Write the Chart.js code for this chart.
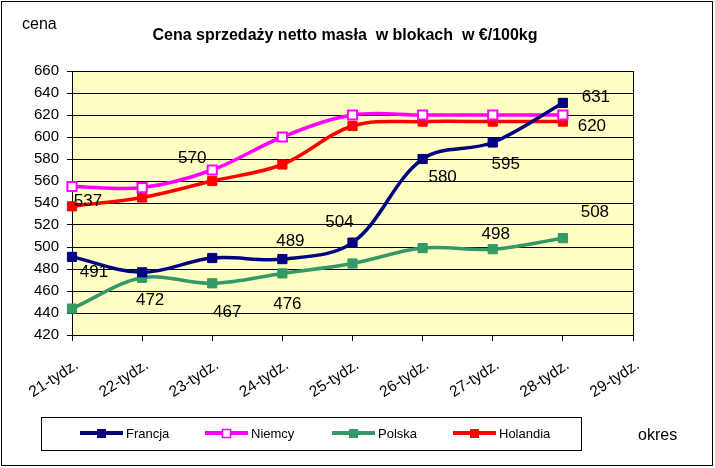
<!DOCTYPE html>
<html>
<head>
<meta charset="utf-8">
<script src="https://cdn.jsdelivr.net/npm/chart.js@4.4.0/dist/chart.umd.min.js"></script>
<style>
  html, body { margin: 0; padding: 0; background: #fff; }
  #wrap { width: 715px; height: 468px; }
</style>
</head>
<body>
<div id="wrap"><canvas id="chart" width="715" height="468"></canvas></div>
<script>
// --- data ---
const weeks = ['21-tydz.', '22-tydz.', '23-tydz.', '24-tydz.', '25-tydz.', '26-tydz.', '27-tydz.', '28-tydz.', '29-tydz.'];
const francja = [491, 477, 490, 489, 504, 580, 595, 631, null];
const niemcy = [555, 554, 570, 600, 620, 620, 620, 620, null];
const polska = [444, 472, 467, 476, 485, 499, 498, 508, null];
const holandia = [537, 545, 560, 575, 610, 614, 614, 614, null];
const yTicks = [420, 440, 460, 480, 500, 520, 540, 560, 580, 600, 620, 640, 660];

const TITLE = 'Cena sprzedaży netto masła  w blokach  w €/100kg';
const FONT = '"Liberation Sans", Arial, sans-serif';

// which points carry a value label, and where it sits relative to the point
const labelSpots = [
    { ds: 0, i: 0, dx: 22, dy: 15 },
    { ds: 0, i: 3, dx: 8, dy: -18 },
    { ds: 0, i: 4, dx: -13, dy: -20 },
    { ds: 0, i: 5, dx: 20, dy: 18 },
    { ds: 0, i: 6, dx: 13, dy: 22 },
    { ds: 0, i: 7, dx: 33, dy: -6 },
    { ds: 1, i: 2, dx: -20, dy: -12 },
    { ds: 1, i: 7, dx: 29, dy: 11 },
    { ds: 3, i: 0, dx: 16, dy: -5 },
    { ds: 2, i: 1, dx: 8, dy: 23 },
    { ds: 2, i: 2, dx: 15, dy: 29 },
    { ds: 2, i: 3, dx: 5, dy: 31 },
    { ds: 2, i: 6, dx: 3, dy: -15 },
    { ds: 2, i: 7, dx: 32, dy: -26 }
];

function series(label, data, color, fill) {
    return {
        label: label,
        data: data,
        borderColor: color,
        backgroundColor: fill || color,
        pointBackgroundColor: fill || color,
        pointBorderColor: color,
        pointBorderWidth: fill ? 2 : 1,
        borderWidth: 3.5,
        tension: 0.35,
        pointStyle: 'rect',
        pointRadius: 6.5,
        pointHoverRadius: 6.5
    };
}

// --- background, frame, title, legend and value labels ---
const decor = {
    id: 'decor',
    beforeDraw(chart) {
        const { ctx, chartArea: a } = chart;
        ctx.save();
        ctx.fillStyle = '#ffffff';
        ctx.fillRect(0, 0, chart.width, chart.height);
        ctx.fillStyle = '#ffffc4';
        ctx.fillRect(a.left, a.top, a.right - a.left, a.bottom - a.top);
        ctx.restore();
    },
    afterDraw(chart) {
        const { ctx, chartArea: a } = chart;
        ctx.save();
        // plot right edge
        ctx.strokeStyle = '#000';
        ctx.lineWidth = 1;
        ctx.beginPath();
        ctx.moveTo(Math.round(a.right) + 0.5, a.top);
        ctx.lineTo(Math.round(a.right) + 0.5, a.bottom);
        ctx.stroke();
        // outer frame
        ctx.strokeRect(1.5, 1.5, 711, 464);

        ctx.fillStyle = '#000';
        ctx.textBaseline = 'alphabetic';
        ctx.textAlign = 'center';
        ctx.font = 'bold 16px ' + FONT;
        ctx.fillText(TITLE, 345, 40);
        ctx.textAlign = 'left';
        ctx.font = '16px ' + FONT;
        ctx.fillText('cena', 22, 29);
        ctx.fillText('okres', 638, 440);

        // value labels
        ctx.font = '17px ' + FONT;
        ctx.textAlign = 'center';
        ctx.textBaseline = 'middle';
        labelSpots.forEach(s => {
            const pt = chart.getDatasetMeta(s.ds).data[s.i];
            const v = chart.data.datasets[s.ds].data[s.i];
            ctx.fillText(String(v), pt.x + s.dx, pt.y + s.dy);
        });

        // legend
        ctx.strokeRect(41.5, 417.5, 540, 33);
        const legX = [80, 205, 332, 453];
        const ly = 433;
        ctx.font = '13px ' + FONT;
        ctx.textAlign = 'left';
        chart.data.datasets.forEach((ds, k) => {
            const x0 = legX[k];
            ctx.strokeStyle = ds.borderColor;
            ctx.lineWidth = 4;
            ctx.beginPath();
            ctx.moveTo(x0, ly);
            ctx.lineTo(x0 + 43, ly);
            ctx.stroke();
            ctx.fillStyle = ds.pointBackgroundColor;
            ctx.fillRect(x0 + 17, ly - 4, 9, 9);
            if (ds.pointBackgroundColor !== ds.borderColor) {
                ctx.lineWidth = 1.5;
                ctx.strokeRect(x0 + 17.5, ly - 3.5, 8, 8);
            }
            ctx.fillStyle = '#000';
            ctx.fillText(ds.label, x0 + 46, ly + 1);
        });
        ctx.restore();
    }
};

new Chart(document.getElementById('chart'), {
    type: 'line',
    data: {
        labels: weeks,
        datasets: [
            series('Francja', francja, '#000080'),
            series('Niemcy', niemcy, '#ff00ff', '#ffffff'),
            series('Polska', polska, '#339966'),
            series('Holandia', holandia, '#ff0000')
        ]
    },
    options: {
        responsive: false,
        animation: false,
        layout: { padding: { left: 0, top: 71, right: 82, bottom: 0 } },
        plugins: { legend: { display: false }, title: { display: false }, tooltip: { enabled: false } },
        scales: {
            x: {
                offset: false,
                grid: { drawOnChartArea: false, drawTicks: true, tickLength: 6, color: '#000' },
                border: { color: '#000', width: 1 },
                ticks: {
                    color: '#000', font: { family: FONT, size: 15.5 },
                    minRotation: 33, maxRotation: 33, autoSkip: false,
                    padding: 15, labelOffset: 5
                },
                afterFit(scale) { scale.height = 133; }
            },
            y: {
                min: 420, max: 660,
                afterBuildTicks(scale) { scale.ticks = yTicks.map(v => ({ value: v })); },
                grid: { color: '#000', lineWidth: 1, tickLength: 5 },
                border: { color: '#000', width: 1 },
                ticks: { color: '#000', font: { family: FONT, size: 15 }, padding: 8 },
                afterFit(scale) { scale.width = 72; }
            }
        }
    },
    plugins: [decor]
});
</script>
</body>
</html>
